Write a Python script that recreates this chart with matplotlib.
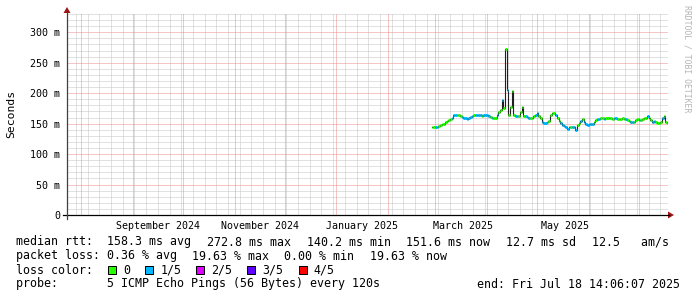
import matplotlib
matplotlib.use("Agg")
import matplotlib.pyplot as plt
import pandas as pd
from matplotlib.lines import Line2D
from matplotlib.patches import Polygon, Rectangle

plt.rcParams["font.family"] = ["DejaVu Sans Mono"]

W, H = 697, 297

# time window of the graph (smokeping "last 360 days")
end_time = pd.Timestamp("2025-07-18 14:06:07")
start_time = end_time - pd.Timedelta(days=360)

# daily median rtt (ms) from 2025-02-27 onwards
first_day = "2025-02-27 12:00"
median_ms = [
    144, 145, 145, 145, 146, 147.5, 149, 150, 152, 155, 156, 157,
    158.5, 163.5, 164, 164, 164, 162, 161, 160, 160, 157, 160, 161,
    162, 164, 164, 165, 164, 164, 163, 164, 165, 164, 162, 161,
    160, 158.5, 160, 165, 169, 172, 188.5, 175, 272.8, 205, 164, 178,
    203, 164, 163, 162, 162, 169, 177, 162, 162, 161, 160, 158.5,
    160, 162, 164, 167, 162, 158.5, 153, 151, 151, 153, 155, 164,
    167, 167, 164, 160, 155, 151, 147.5, 146, 144, 142, 144, 145,
    144, 145, 140.2, 147.5, 151, 155, 157, 153, 149, 147.5, 149, 149,
    150, 153, 155.7, 157, 157, 158.5, 158.5, 157, 158.5, 160, 158.5, 160,
    157, 158.5, 158.5, 157, 157, 157, 158.5, 157, 157, 155.7, 155, 153,
    153, 153, 155.7, 157, 155.7, 155.7, 157, 158.5, 160, 162, 160, 155.7,
    153, 155, 153, 151, 151, 153, 158.5, 162, 153, 151.6,
]
# lost pings out of 5 for each day
loss_level = [
    0, 0, 1, 1, 0, 0, 0, 0, 0, 0, 0, 0,
    1, 1, 1, 0, 0, 0, 1, 1, 1, 1, 1, 1,
    1, 0, 1, 1, 1, 1, 0, 1, 1, 1, 1, 0,
    1, 0, 0, 1, 0, 0, 1, 0, 0, 1, 0, 0,
    0, 0, 1, 1, 0, 0, 0, 0, 1, 1, 1, 0,
    0, 0, 1, 1, 0, 0, 1, 1, 1, 0, 0, 0,
    0, 0, 1, 0, 0, 1, 1, 1, 1, 1, 1, 0,
    1, 1, 1, 0, 0, 1, 0, 1, 1, 1, 1, 1,
    1, 0, 0, 1, 1, 0, 0, 1, 0, 0, 0, 0,
    0, 1, 1, 0, 0, 0, 0, 0, 1, 0, 0, 1,
    1, 0, 0, 0, 1, 0, 0, 0, 0, 1, 0, 0,
    1, 1, 0, 0, 0, 0, 1, 0, 0, 0,
]

loss_colors = ["#26ff00", "#00b8ff", "#dd00ff", "#5e00ff", "#ff0000"]
loss_labels = ["0", "1/5", "2/5", "3/5", "4/5"]

y_ticks = [0, 50, 100, 150, 200, 250, 300]
y_tick_labels = ["0", "50 m", "100 m", "150 m", "200 m", "250 m", "300 m"]
month_labels = ["September 2024", "November 2024", "January 2025", "March 2025", "May 2025"]
month_label_at = ["2024-09-16", "2024-11-16", "2025-01-16", "2025-03-18", "2025-05-18"]

legend_rtt = ["median rtt:  158.3 ms avg", "272.8 ms max", "140.2 ms min",
              "151.6 ms now", "12.7 ms sd", "12.5   am/s"]
legend_loss = ["packet loss: 0.36 % avg", "19.63 % max", "0.00 % min", "19.63 % now"]
probe_text = "probe:       5 ICMP Echo Pings (56 Bytes) every 120s"
end_text = "end: Fri Jul 18 14:06:07 2025"

LEG_SIZE = 8.35
CW = 0.602 * LEG_SIZE * 100 / 72  # char width in px


def fx(x):
    return x / W


def fy(y):
    return 1 - y / H


fig = plt.figure(figsize=(W / 100, H / 100), dpi=100, facecolor="white")
ax = fig.add_axes([fx(67), fy(215), 601 / W, 201 / H])
ax.set_xlim(start_time.to_pydatetime(), end_time.to_pydatetime())
ax.set_ylim(0, 330)
for s in ax.spines.values():
    s.set_visible(False)

# grid, rrdtool style dotted lines
dots = (0, (1, 1))
grid_kw = dict(lw=0.72, ls=dots)
for v in range(10, 331, 10):
    if v % 50:
        ax.axhline(v, color="#c4c4c4", zorder=0, **grid_kw)
for d in pd.date_range(start_time.normalize(), end_time, freq="W-MON"):
    ax.axvline(d.to_pydatetime(), color="#c4c4c4", zorder=0, **grid_kw)
for v in range(50, 331, 50):
    ax.axhline(v, color="#e88c8c", zorder=1, **grid_kw)
for d in pd.date_range("2024-08-01", end_time, freq="MS"):
    ax.axvline(d.to_pydatetime(), color="#e88c8c", zorder=1, **grid_kw)

# median line: thin dark steps, then thick colored by loss
days = pd.date_range(first_day, periods=len(median_ms), freq="D")
ax.plot(days.to_pydatetime(), median_ms, drawstyle="steps-mid", color="#202020", lw=0.8, zorder=3)
half = pd.Timedelta(hours=12)
ax.hlines(median_ms, (days - half).to_pydatetime(), (days + half).to_pydatetime(),
          colors=[loss_colors[l] for l in loss_level], lw=2.16, capstyle="butt", zorder=4)

ax.set_yticks(y_ticks, y_tick_labels)
ax.set_xticks(pd.to_datetime(month_label_at).to_pydatetime(), month_labels)
ax.tick_params(axis="y", length=0, pad=5.0, labelsize=7.2)
ax.tick_params(axis="x", length=0, pad=4.5, labelsize=7.2)

# axes with arrows
fig.add_artist(Line2D([fx(63), fx(669)], [fy(215), fy(215)], color="black", lw=0.9))
fig.add_artist(Line2D([fx(67), fx(67)], [fy(219), fy(12)], color="#404040", lw=0.9))
fig.add_artist(Polygon([(fx(668), fy(211.5)), (fx(674), fy(215)), (fx(668), fy(218.5))],
                       closed=True, color="#a01414", lw=0))
fig.add_artist(Polygon([(fx(63.5), fy(13)), (fx(67), fy(7)), (fx(70.5), fy(13))],
                       closed=True, color="#a01414", lw=0))

fig.text(fx(11), fy(113.5), "Seconds", rotation=90, ha="center", va="center", size=8.2)
fig.text(fx(687), fy(59), "RRDTOOL / TOBI OETIKER", rotation=270, ha="center", va="center",
         size=5.9, color="#b4b4b4")

# legend lines
base = [245.5, 259.5, 273.5, 287.5]

gap = (669 - 16 - CW * sum(len(s) for s in legend_rtt)) / (len(legend_rtt) - 1)
x = 16
for s in legend_rtt:
    fig.text(fx(x), fy(base[0]), s, size=LEG_SIZE, va="baseline")
    x += len(s) * CW + gap

x = 16
for s in legend_loss:
    fig.text(fx(x), fy(base[1]), s, size=LEG_SIZE, va="baseline")
    x += len(s) * CW + 15.5

fig.text(fx(16), fy(base[2]), "loss color:", size=LEG_SIZE, va="baseline")
x = 16 + len("loss color:") * CW + 15.2
for c, lab in zip(loss_colors, loss_labels):
    fig.add_artist(Rectangle((fx(x), fy(273.5)), 8 / W, 8 / H, facecolor=c,
                             edgecolor="black", lw=0.72))
    fig.text(fx(x + 15), fy(base[2]), lab, size=LEG_SIZE, va="baseline")
    x += 15 + len(lab) * CW + 15.2

fig.text(fx(16), fy(base[3]), probe_text, size=LEG_SIZE, va="baseline")
fig.text(fx(680), fy(base[3]), end_text, size=LEG_SIZE, va="baseline", ha="right")

fig.savefig("out.png", dpi=100, facecolor="white")
